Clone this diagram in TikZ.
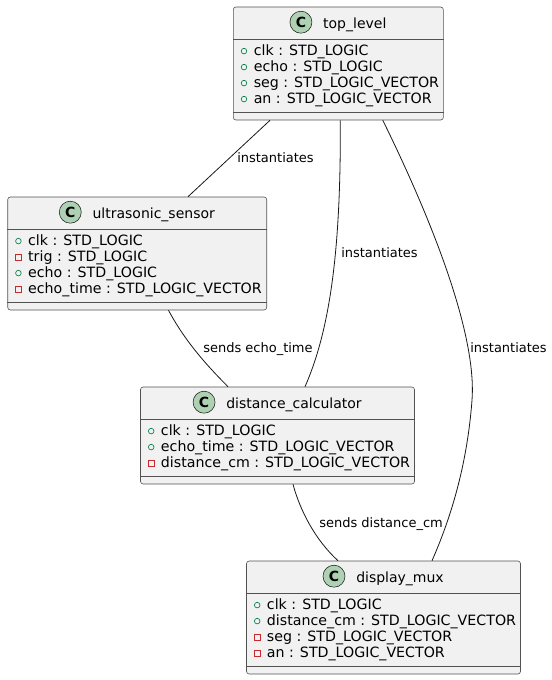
\documentclass[tikz,border=0pt]{standalone}
\usepackage{fontspec}
\setmainfont{DejaVu Sans}
\usepackage{tikz}
\usetikzlibrary{positioning, calc}

\definecolor{clsfill}{HTML}{F1F1F1}
\definecolor{clsline}{HTML}{181818}
\definecolor{spotfill}{HTML}{ADD1B2}
\definecolor{pubgreen}{HTML}{038048}
\definecolor{privred}{HTML}{C82930}

\begin{document}
\begin{tikzpicture}[
    x=0.75pt, y=-0.75pt,
    cls/.style={draw=clsline!75, fill=clsfill, rounded corners=2pt, line width=0.45pt},
    sep/.style={draw=clsline!75, line width=0.45pt},
    clsname/.style={font=\fontsize{10.5}{12}\selectfont, anchor=base, inner sep=0pt},
    spot/.style={circle, draw=clsline, fill=spotfill, minimum size=16.5pt, inner sep=0pt, line width=0.4pt, font=\fontsize{10.5}{12}\selectfont\bfseries},
    attr/.style={font=\fontsize{10.65}{12}\selectfont, anchor=base west, inner sep=0pt},
    pub/.style={circle, draw=pubgreen, minimum size=4.2pt, inner sep=0pt, line width=0.5pt},
    priv/.style={rectangle, draw=privred, minimum size=4.2pt, inner sep=0pt, line width=0.5pt},
    link/.style={draw=clsline, line width=0.6pt},
    lbl/.style={font=\fontsize{9.75}{11}\selectfont, anchor=base west, inner sep=0pt},
]
\useasboundingbox (0,0) rectangle (551,680);

% === Class boxes ===
\node[cls, minimum width=157.5pt, minimum height=84.75pt] (top) at (338.3,63.5) {};
\node[cls, minimum width=194.25pt, minimum height=84.75pt] (us) at (137.2,253.5) {};
\node[cls, minimum width=205.5pt, minimum height=72.75pt] (dc) at (277.5,435.5) {};
\node[cls, minimum width=205.5pt, minimum height=84.75pt] (dm) at (383.5,617.5) {};

% compartments
\foreach \c in {top, us, dc, dm} {
  \draw[sep] ($(\c.north west)+(0,32.3)$) -- ($(\c.north east)+(0,32.3)$);
  \draw[sep] ($(\c.south west)+(0,-8)$) -- ($(\c.south east)+(0,-8)$);
}

% === Headers ===
\node[clsname] (top-name) at ($(top.north)+(16.5,21.5)$) {top\_level};
\node[spot] (top-spot) at ($(top-name.base west)+(-22,-6)$) {C};
\node[clsname] (us-name) at ($(us.north)+(16.5,21.5)$) {ultrasonic\_sensor};
\node[spot] (us-spot) at ($(us-name.base west)+(-22,-6)$) {C};
\node[clsname] (dc-name) at ($(dc.north)+(16.5,21.5)$) {distance\_calculator};
\node[spot] (dc-spot) at ($(dc-name.base west)+(-22,-6)$) {C};
\node[clsname] (dm-name) at ($(dm.north)+(16.5,21.5)$) {display\_mux};
\node[spot] (dm-spot) at ($(dm-name.base west)+(-22,-6)$) {C};

% === Attributes ===
\foreach \vis/\txt [count=\i] in {pub/clk : STD\_LOGIC, pub/echo : STD\_LOGIC,
    pub/seg : STD\_LOGIC\_VECTOR, pub/an : STD\_LOGIC\_VECTOR} {
  \node[attr] (top-a\i) at ($(top.north west)+(20.5,32.8+16*\i)$) {\txt};
  \node[\vis] (top-v\i) at ($(top-a\i.base west)+(-9.5,-4.4)$) {};
}
\foreach \vis/\txt [count=\i] in {pub/clk : STD\_LOGIC, priv/trig : STD\_LOGIC,
    pub/echo : STD\_LOGIC, priv/echo\_time : STD\_LOGIC\_VECTOR} {
  \node[attr] (us-a\i) at ($(us.north west)+(20.5,32.8+16*\i)$) {\txt};
  \node[\vis] (us-v\i) at ($(us-a\i.base west)+(-9.5,-4.4)$) {};
}
\foreach \vis/\txt [count=\i] in {pub/clk : STD\_LOGIC, pub/echo\_time : STD\_LOGIC\_VECTOR,
    priv/distance\_cm : STD\_LOGIC\_VECTOR} {
  \node[attr] (dc-a\i) at ($(dc.north west)+(20.5,32.8+16*\i)$) {\txt};
  \node[\vis] (dc-v\i) at ($(dc-a\i.base west)+(-9.5,-4.4)$) {};
}
\foreach \vis/\txt [count=\i] in {pub/clk : STD\_LOGIC, pub/distance\_cm : STD\_LOGIC\_VECTOR,
    priv/seg : STD\_LOGIC\_VECTOR, priv/an : STD\_LOGIC\_VECTOR} {
  \node[attr] (dm-a\i) at ($(dm.north west)+(20.5,32.8+16*\i)$) {\txt};
  \node[\vis] (dm-v\i) at ($(dm-a\i.base west)+(-9.5,-4.4)$) {};
}

% === Links ===
\coordinate (mux-bend) at (472,400);
\draw[link] ($(top.south)+(-68.3,0)$) -- ($(us.north)+(50.8,0)$);
\draw[link] ($(top.south)+(2,0)$) .. controls +(0.7,130) and +(25,-57) .. ($(dc.north)+(27.5,0)$);
\draw[link] ($(top.south)+(44.5,0)$) .. controls +(27,55) and +(6,-80) .. (mux-bend)
    .. controls +(-5,67) and +(18,-41) .. ($(dm.north)+(48.5,0)$);
\draw[link] ($(us.south)+(31.3,0)$) .. controls +(16,30) and +(-22,-22) .. ($(dc.north)+(-49.5,0)$);
\draw[link] ($(dc.south)+(15.5,0)$) .. controls +(7,26) and +(-23,-21) .. ($(dm.north)+(-45.5,0)$);

% labels
\node[lbl] (inst-us) at (237,162.7) {instantiates};
\node[lbl] (inst-dc) at (341,257.7) {instantiates};
\node[lbl] (inst-dm) at (470,352.7) {instantiates};
\node[lbl] (send-echo) at (203,352.7) {sends echo\_time};
\node[lbl] (send-dist) at (319,527) {sends distance\_cm};

\end{tikzpicture}
\end{document}
